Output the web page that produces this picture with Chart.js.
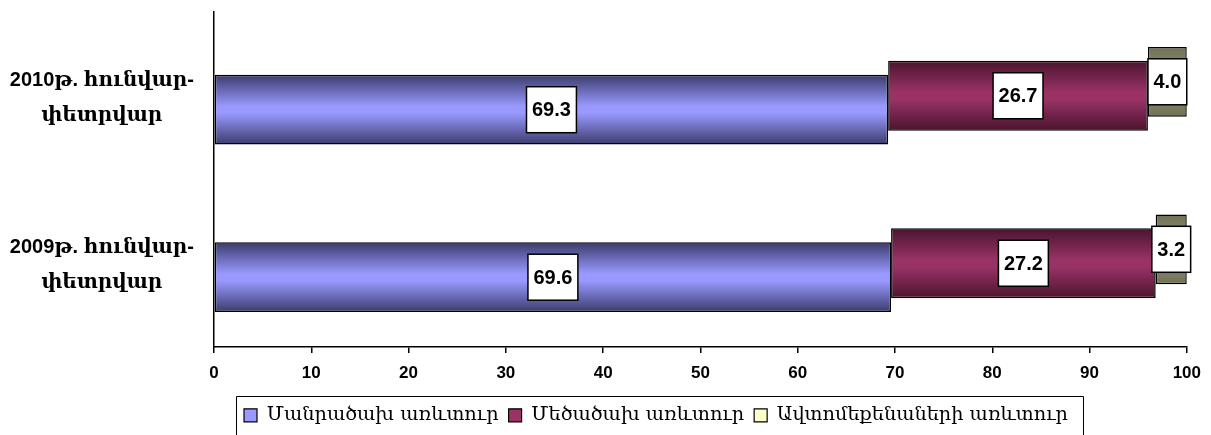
<!DOCTYPE html>
<html><head><meta charset="utf-8">
<script src="https://cdn.jsdelivr.net/npm/chart.js@4.4.0/dist/chart.umd.min.js"></script>
<style>html,body{margin:0;padding:0;background:#fff;overflow:hidden}#wrap{width:1211px;height:435px;position:relative}</style>
</head><body><div id="wrap"><canvas id="c"></canvas></div>
<script>
// ---- data ----
const categories = [["2010թ. հունվար-", "փետրվար"], ["2009թ. հունվար-", "փետրվար"]];
const seriesNames = ["Մանրածախ առևտուր", "Մեծածախ առևտուր", "Ավտոմեքենաների առևտուր"];
const retail = [69.3, 69.6];
const wholesale = [26.7, 27.2];
const cars = [4.0, 3.2];
const xMin = 0, xMax = 100, xStep = 10;

// ---- styles ----
const barStyles = [
  {dark: '#3b3b6b', light: '#9999ff', legend: '#9999ff'},
  {dark: '#4a142e', light: '#993366', legend: '#993366'},
  {dark: '#6f6f55', light: '#9c9c7c', legend: '#ffffcc'}
];

// floating segments built from the values
const retailBars = retail.map(v => [0, v]);
const wholesaleBars = wholesale.map((v, i) => [retail[i], retail[i] + v]);
const carsBars = cars.map((v, i) => [retail[i] + wholesale[i], retail[i] + wholesale[i] + v]);

const gradientPlugin = {
  id: 'cyl',
  beforeDatasetsDraw(chart) {
    const ctx = chart.ctx;
    chart.data.datasets.forEach((ds, di) => {
      const meta = chart.getDatasetMeta(di);
      const st = barStyles[di];
      meta.data.forEach(el => {
        const t = el.y - el.height / 2, b = el.y + el.height / 2;
        const g = ctx.createLinearGradient(0, t, 0, b);
        g.addColorStop(0, st.dark);
        g.addColorStop(0.45, st.light);
        g.addColorStop(0.55, st.light);
        g.addColorStop(1, st.dark);
        el.options = Object.assign({}, el.options, {backgroundColor: g});
      });
    });
  }
};

const labelPlugin = {
  id: 'boxLabels',
  afterDatasetsDraw(chart) {
    const ctx = chart.ctx;
    ctx.save();
    ctx.font = 'bold 20px "Liberation Sans", Arial, sans-serif';
    ctx.textAlign = 'center';
    ctx.textBaseline = 'middle';
    chart.data.datasets.forEach((ds, di) => {
      const meta = chart.getDatasetMeta(di);
      meta.data.forEach((el, i) => {
        const txt = ds.values[i].toFixed(1);
        const cx = (el.x + el.base) / 2, cy = el.y;
        const w = ctx.measureText(txt).width + 11, h = 46;
        ctx.fillStyle = '#fff';
        ctx.fillRect(cx - w / 2, cy - h / 2, w, h);
        ctx.strokeStyle = '#000';
        ctx.lineWidth = 1.5;
        ctx.strokeRect(cx - w / 2, cy - h / 2, w, h);
        ctx.fillStyle = '#000';
        ctx.fillText(txt, cx, cy + 1);
      });
    });
    ctx.restore();
  }
};

const legendPlugin = {
  id: 'legendFrame',
  afterLayout(chart) {
    chart.legend.left = 234;
  },
  afterDraw(chart) {
    const lg = chart.legend, ctx = chart.ctx;
    const left = Math.round(lg.left + 2);
    const right = Math.round(lg.left + lg.lineWidths[0] + 15);
    const top = Math.round(lg.top);
    ctx.save();
    ctx.strokeStyle = '#000';
    ctx.lineWidth = 1;
    ctx.beginPath();
    ctx.moveTo(left + 0.5, chart.height + 2);
    ctx.lineTo(left + 0.5, top + 0.5);
    ctx.lineTo(right + 0.5, top + 0.5);
    ctx.lineTo(right + 0.5, chart.height + 2);
    ctx.stroke();
    ctx.restore();
  }
};

new Chart(document.getElementById('c'), {
  type: 'bar',
  data: {
    labels: categories,
    datasets: [
      {label: seriesNames[0], data: retailBars, values: retail, order: 2, stack: 's0',
       backgroundColor: barStyles[0].light, borderColor: '#000', borderWidth: 1.5, borderSkipped: false},
      {label: seriesNames[1], data: wholesaleBars, values: wholesale, order: 1, stack: 's1',
       backgroundColor: barStyles[1].light, borderColor: '#000', borderWidth: 1.5, borderSkipped: false},
      {label: seriesNames[2], data: carsBars, values: cars, order: 0, stack: 's2',
       backgroundColor: barStyles[2].light, borderColor: '#000', borderWidth: 1.5, borderSkipped: false}
    ]
  },
  options: {
    indexAxis: 'y',
    responsive: true,
    maintainAspectRatio: false,
    animation: false,
    layout: {padding: {top: 12, right: 22, left: 0, bottom: 0}},
    datasets: {bar: {categoryPercentage: 0.25, barPercentage: 5}},
    scales: {
      x: {
        min: xMin, max: xMax,
        ticks: {stepSize: xStep, color: '#000', padding: 10,
          font: {family: '"Liberation Sans", Arial, sans-serif', weight: 'bold', size: 17}},
        grid: {display: true, drawOnChartArea: false, drawTicks: true, tickLength: 6, color: '#000', lineWidth: 1.5},
        border: {display: true, color: '#000', width: 1.5},
        afterFit: s => { s.height = 48.7; }
      },
      y: {
        stacked: false,
        grid: {display: false},
        border: {display: true, color: '#000', width: 1.5},
        ticks: {crossAlign: 'center', padding: 12, labelOffset: 2, color: '#000',
          font: {family: '"Liberation Sans", "DejaVu Serif", sans-serif', weight: 'bold', size: 20, lineHeight: 1.75}},
        afterFit: s => { s.width = 214; s.paddingTop = 0; s.paddingBottom = 0; }
      }
    },
    plugins: {
      tooltip: {enabled: false},
      legend: {
        position: 'bottom', align: 'start',
        labels: {
          boxWidth: 13, boxHeight: 13, padding: 10, color: '#000',
          font: {family: '"DejaVu Serif", serif', size: 19.3},
          sort: (a, b) => a.datasetIndex - b.datasetIndex,
          generateLabels(chart) {
            const items = Chart.defaults.plugins.legend.labels.generateLabels(chart);
            items.forEach(it => {
              it.fillStyle = barStyles[it.datasetIndex].legend;
              it.strokeStyle = '#000';
              it.lineWidth = 1.2;
            });
            return items;
          }
        }
      }
    }
  },
  plugins: [gradientPlugin, labelPlugin, legendPlugin]
});
</script>
</body></html>
